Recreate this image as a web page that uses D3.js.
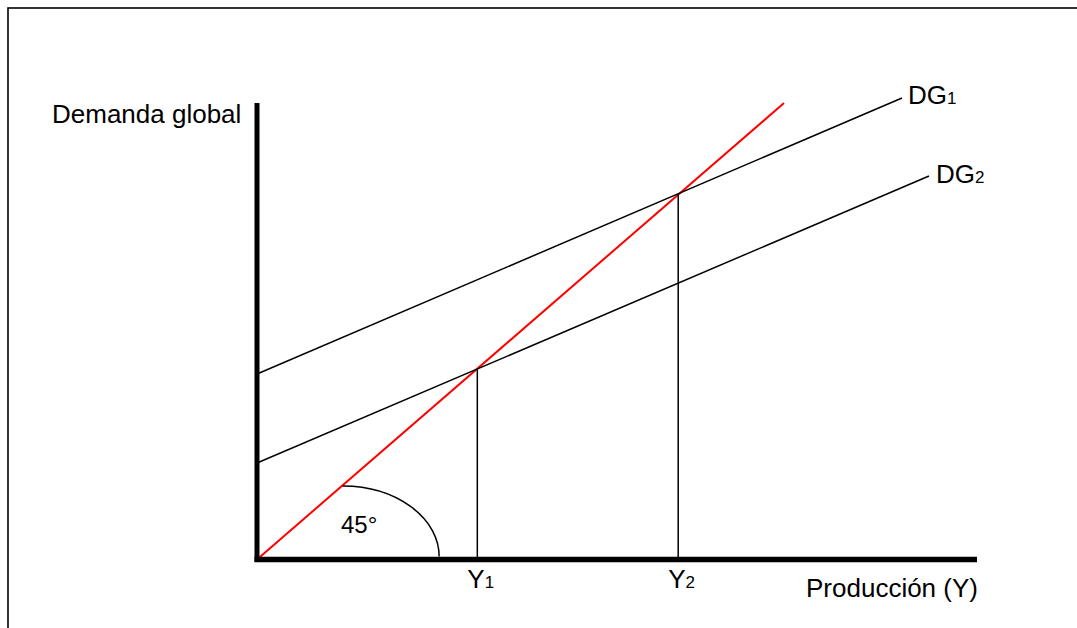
<!DOCTYPE html>
<html>
<head>
<meta charset="utf-8">
<script src="https://cdn.jsdelivr.net/npm/d3@7"></script>
<style>
  html, body { margin: 0; padding: 0; background: #fff; }
  svg { display: block; }
  text { font-family: "Liberation Sans", Arial, sans-serif; fill: #000; }
</style>
</head>
<body>
<script>
// ---- data (model units) ----
const lineNames = ["45", "DG1", "DG2"];
const lineStartX = [0, 0, 0];
const lineStartY = [0, 25.76, 13.4];
const lineEndX = [73.2, 89.58, 93.33];
const lineEndY = [63.4, 64.1, 53.26];
const eqLabels = ["1", "2"];          // subscripts of Y1, Y2
const eqX = [30.6, 58.5];
const eqY = [26.4, 50.8];
const arcStart = [11.9, 10.2];         // point on 45° line
const arcEnd = [25.3, 0];              // point on x axis
const axisMax = [100, 63.4];

const W = 1077, H = 628;
const svg = d3.select("body").append("svg").attr("width", W).attr("height", H);

// frame
svg.append("rect").attr("x", 8).attr("y", 8).attr("width", 1100).attr("height", 700)
  .attr("fill", "none").attr("stroke", "#000").attr("stroke-width", 1.6);

const x = d3.scaleLinear().domain([0, axisMax[0]]).range([257, 977]);
const y = d3.scaleLinear().domain([0, axisMax[1]]).range([559.5, 103]);

const g = svg.append("g");

// DG lines (black) and 45° line (red)
const colors = ["#ff0000", "#000", "#000"];
const widths = [2, 1.5, 1.5];
lineNames.forEach((n, i) => {
  g.append("line")
    .attr("x1", x(lineStartX[i])).attr("y1", y(lineStartY[i]))
    .attr("x2", x(lineEndX[i])).attr("y2", y(lineEndY[i]))
    .attr("stroke", colors[i]).attr("stroke-width", widths[i]);
});

// vertical equilibrium lines
eqX.forEach((v, i) => {
  g.append("line")
    .attr("x1", x(v)).attr("x2", x(v))
    .attr("y1", y(eqY[i])).attr("y2", y(0))
    .attr("stroke", "#000").attr("stroke-width", 1.5);
});

// angle arc (quarter ellipse)
const ax0 = x(arcStart[0]), ay0 = y(arcStart[1]);
const ax1 = x(arcEnd[0]), ay1 = y(arcEnd[1]) - 3;
g.append("path")
  .attr("d", `M${ax0},${ay0} A${ax1 - ax0},${ay1 - ay0} 0 0 1 ${ax1},${ay1}`)
  .attr("fill", "none").attr("stroke", "#000").attr("stroke-width", 1.5);

// axes (thick)
g.append("line").attr("x1", x(0)).attr("x2", x(0)).attr("y1", y(axisMax[1])).attr("y2", y(0) + 2.5)
  .attr("stroke", "#000").attr("stroke-width", 5);
g.append("line").attr("x1", x(0) - 2.5).attr("x2", x(axisMax[0])).attr("y1", y(0)).attr("y2", y(0))
  .attr("stroke", "#000").attr("stroke-width", 5.5);

// labels
svg.append("text").attr("x", 52).attr("y", 123).attr("font-size", 26).text("Demanda global");
svg.append("text").attr("x", 806).attr("y", 597).attr("font-size", 26).text("Producción (Y)");
svg.append("text").attr("x", 341).attr("y", 533).attr("font-size", 24).text("45°");

// DG labels
const dgLabelPos = [[908, 104], [936, 183]];
[1, 2].forEach((k, i) => {
  const t = svg.append("text").attr("x", dgLabelPos[i][0]).attr("y", dgLabelPos[i][1]).attr("font-size", 26);
  t.append("tspan").text("DG");
  t.append("tspan").attr("font-size", 17).text(String(k));
});

// Y labels
eqX.forEach((v, i) => {
  const t = svg.append("text").attr("x", x(v) - 10).attr("y", 588).attr("font-size", 26);
  t.append("tspan").text("Y");
  t.append("tspan").attr("font-size", 17).text(eqLabels[i]);
});
</script>
</body>
</html>
